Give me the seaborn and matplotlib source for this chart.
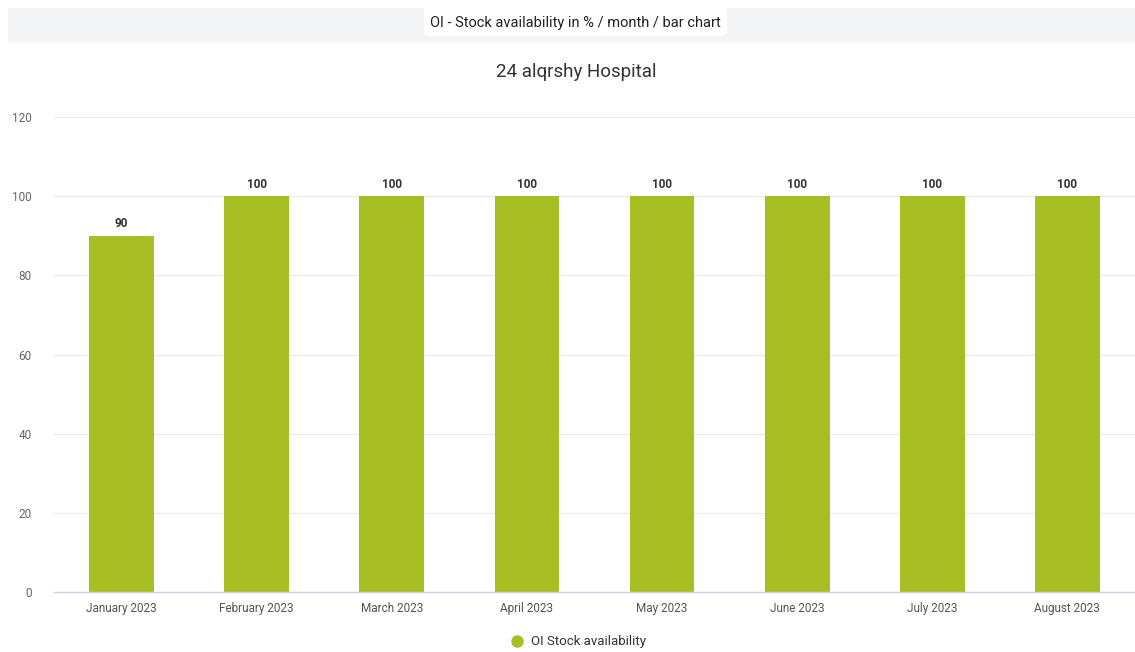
import matplotlib
matplotlib.use("Agg")
import matplotlib.pyplot as plt
import seaborn as sns
import pandas as pd
from matplotlib.patches import FancyBboxPatch, Rectangle
from matplotlib.lines import Line2D

months = ["January 2023", "February 2023", "March 2023", "April 2023",
          "May 2023", "June 2023", "July 2023", "August 2023"]
values = [90, 100, 100, 100, 100, 100, 100, 100]
series_name = "OI Stock availability"
yticks = [0, 20, 40, 60, 80, 100, 120]

sns.set_theme(style="white")
plt.rcParams['font.family'] = ['Roboto', 'DejaVu Sans']

W, H = 1135, 652
fig = plt.figure(figsize=(W / 100, H / 100), dpi=100)
fig.patch.set_facecolor("white")

# header band
fig.add_artist(Rectangle((8 / W, 1 - 42 / H), (W - 8) / W, 34 / H,
                         transform=fig.transFigure, facecolor="#f3f4f6",
                         edgecolor="none"))
fig.add_artist(FancyBboxPatch((424 / W, 1 - 36 / H), 303 / W, 29 / H,
                              boxstyle="round,pad=0,rounding_size=0.005",
                              transform=fig.transFigure, facecolor="white",
                              edgecolor="none"))
fig.text(575.5 / W, 1 - 22.5 / H, "OI - Stock availability in % / month / bar chart",
         ha="center", va="center", fontsize=10.5, color="#222222")
fig.text(576 / W, 1 - 72 / H, "24 alqrshy Hospital", ha="center", va="center",
         fontsize=13.5, color="#333333")

ax = fig.add_axes([54 / W, 1 - 592 / H, (1135 - 54) / W, (592 - 117) / H])
df = pd.DataFrame({"month": months, "value": values})
sns.barplot(data=df, x="month", y="value", color="#a8bf24", width=0.48,
            saturation=1, ax=ax)
for p in ax.patches:
    p.set_edgecolor("none")

ax.set_ylim(0, 120)
ax.set_yticks(yticks)
ax.set_yticklabels([str(t) for t in yticks], fontsize=8.5, color="#666666")
ax.set_xlim(-0.5, len(months) - 0.5)
ax.tick_params(axis="x", labelsize=8.5, labelcolor="#555555", length=0, pad=7)
ax.tick_params(axis="y", length=0, pad=16)
ax.set_xlabel("")
ax.set_ylabel("")
ax.grid(axis="y", color="#e9e9e9", linewidth=0.9)
ax.set_axisbelow(True)
for s in ["top", "right", "left"]:
    ax.spines[s].set_visible(False)
ax.spines["bottom"].set_color("#ccd6eb")
ax.spines["bottom"].set_linewidth(1)

for i, v in enumerate(values):
    ax.annotate(str(v), (i, v), xytext=(0, 4), textcoords="offset points",
                ha="center", va="bottom", fontsize=8.5, fontweight="bold",
                color="#333333")

handle = Line2D([], [], marker="o", linestyle="none", markersize=9,
                markerfacecolor="#a8bf24", markeredgecolor="none")
fig.legend([handle], [series_name], loc="center",
           bbox_to_anchor=(575 / W, 1 - 642 / H), frameon=False,
           fontsize=9.5, handletextpad=0.1, labelcolor="#333333")

fig.savefig("out.png", dpi=100, facecolor="white")
